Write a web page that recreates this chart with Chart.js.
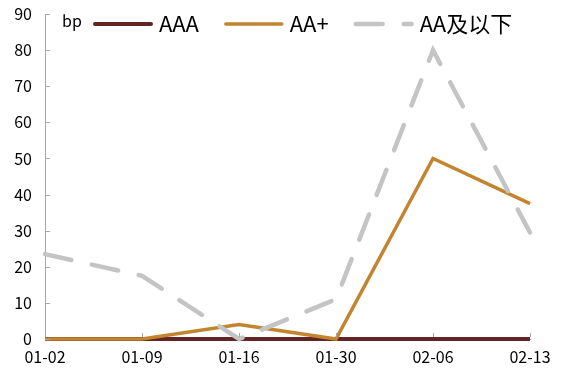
<!DOCTYPE html>
<html>
<head>
<meta charset="utf-8">
<script src="https://cdn.jsdelivr.net/npm/chart.js@4"></script>
<style>
  html, body { margin: 0; padding: 0; background: #fff; }
  #wrap { width: 573px; height: 377px; }
</style>
</head>
<body>
<div id="wrap"><canvas id="chart"></canvas></div>
<script>
// 数据
const dates = ['01-02', '01-09', '01-16', '01-30', '02-06', '02-13'];
const aaa = [0, 0, 0, 0, 0, 0];
const aaPlus = [0, 0, 4, 0, 50, 37.5];
const aaBelow = [23.5, 17.5, 0, 11, 80, 29.5];
const seriesNames = ['AAA', 'AA+', 'AA及以下'];
const yTicks = [0, 10, 20, 30, 40, 50, 60, 70, 80, 90];

const FONT = "'Noto Sans CJK SC', 'Noto Sans', sans-serif";
const AXIS_COLOR = '#a6a6a6';

// 轴内侧小刻度 + 图内图例 + 单位
const decorPlugin = {
    id: 'decor',
    afterDraw(chart) {
        const ctx = chart.ctx;
        const area = chart.chartArea;
        const x = chart.scales.x;
        const y = chart.scales.y;

        ctx.save();
        ctx.strokeStyle = AXIS_COLOR;
        ctx.lineWidth = 1;
        yTicks.forEach(v => {
            const py = Math.round(y.getPixelForValue(v)) + 0.5;
            ctx.beginPath();
            ctx.moveTo(area.left, py);
            ctx.lineTo(area.left + 5, py);
            ctx.stroke();
        });
        dates.forEach((d, i) => {
            const px = Math.round(x.getPixelForValue(i)) + 0.5;
            ctx.beginPath();
            ctx.moveTo(px, area.bottom - 2);
            ctx.lineTo(px, area.bottom - 6);
            ctx.stroke();
        });

        // 单位
        ctx.fillStyle = '#000';
        ctx.font = '16px ' + FONT;
        ctx.textBaseline = 'middle';
        ctx.textAlign = 'left';
        ctx.fillText('bp', area.left + 17, area.top + 7);

        // 图例
        let lx = area.left + 48;
        const ly = area.top + 10;
        ctx.font = '22px ' + FONT;
        chart.data.datasets.forEach(ds => {
            ctx.strokeStyle = ds.borderColor;
            ctx.lineWidth = ds.borderWidth;
            ctx.lineCap = 'round';
            ctx.setLineDash(ds.borderDash || []);
            ctx.beginPath();
            ctx.moveTo(lx + 2, ly);
            ctx.lineTo(lx + 58, ly);
            ctx.stroke();
            ctx.setLineDash([]);
            ctx.fillText(ds.label, lx + 66, ly);
            lx += 66 + ctx.measureText(ds.label).width + 25;
        });
        ctx.restore();
    }
};

new Chart(document.getElementById('chart'), {
    type: 'line',
    data: {
        labels: dates,
        datasets: [{
            label: seriesNames[0],
            data: aaa,
            borderColor: '#632523',
            borderWidth: 4,
            clip: false,
            order: 2
        }, {
            label: seriesNames[1],
            data: aaPlus,
            borderColor: '#c3842f',
            borderWidth: 3.5,
            clip: false,
            order: 1
        }, {
            label: seriesNames[2],
            data: aaBelow,
            borderColor: '#c4c4c4',
            borderWidth: 4.5,
            borderDash: [27, 21],
            borderCapStyle: 'round',
            clip: false,
            order: 0
        }]
    },
    options: {
        responsive: true,
        maintainAspectRatio: false,
        animation: false,
        elements: {
            point: { radius: 0 },
            line: { tension: 0, borderJoinStyle: 'miter' }
        },
        layout: { autoPadding: false, padding: { top: 14, right: 43, left: 0, bottom: 0 } },
        plugins: {
            legend: { display: false },
            tooltip: { enabled: false }
        },
        scales: {
            x: {
                offset: false,
                grid: { display: false, drawTicks: false },
                border: { display: true, color: AXIS_COLOR, width: 1 },
                ticks: {
                    color: '#000',
                    font: { family: FONT, size: 16 },
                    padding: 8,
                    maxRotation: 0,
                    autoSkip: false
                },
                afterFit(scale) {
                    scale.height = 38;
                    scale.paddingLeft = 0;
                    scale.paddingRight = 0;
                }
            },
            y: {
                min: 0,
                max: 90,
                grid: { display: false, drawTicks: false },
                border: { display: true, color: AXIS_COLOR, width: 1 },
                ticks: {
                    stepSize: 10,
                    color: '#000',
                    font: { family: FONT, size: 16 },
                    padding: 13
                },
                afterFit(scale) {
                    scale.width = 45;
                    scale.paddingTop = 0;
                    scale.paddingBottom = 0;
                }
            }
        }
    },
    plugins: [decorPlugin]
});
</script>
</body>
</html>
